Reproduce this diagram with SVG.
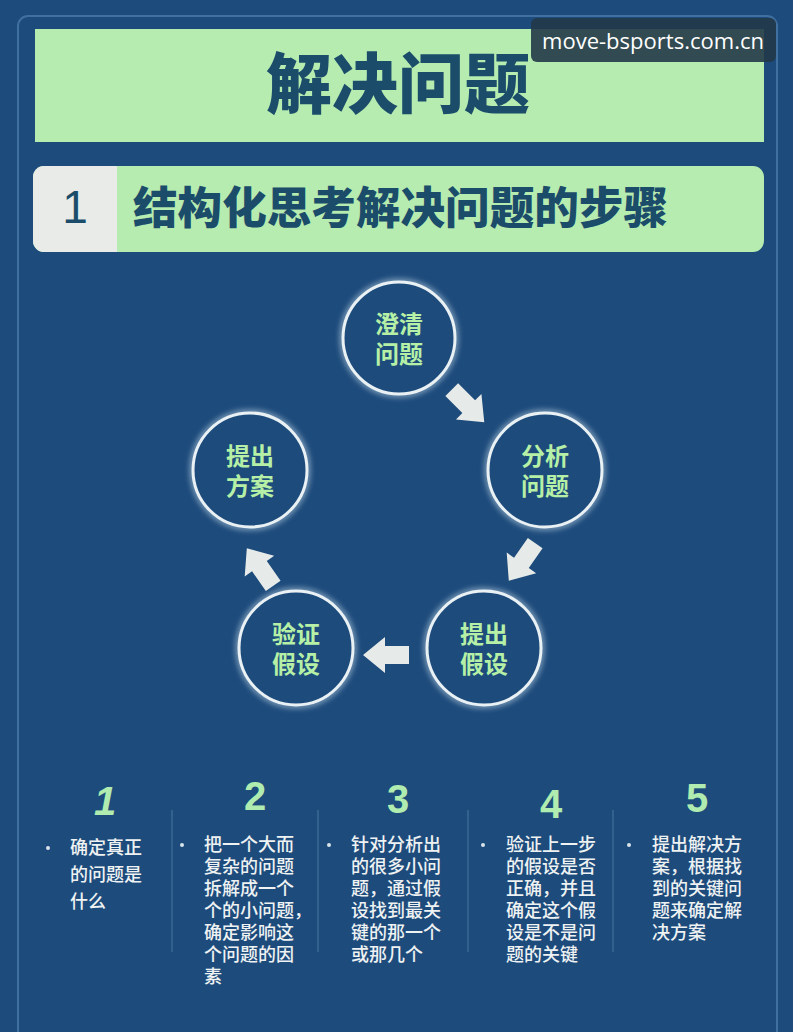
<svg xmlns="http://www.w3.org/2000/svg" width="793" height="1032" viewBox="0 0 793 1032">
<defs>
<style>
.cjk{font-family:"Noto Sans CJK SC","Noto Sans",sans-serif;}
.title{font-weight:900;fill:#1b4d6b;}
.node circle.ring{fill:#1d4b7c;stroke:#e9f1f4;stroke-width:3;}
.node circle.glow{fill:none;stroke:#cfe2ee;stroke-width:8;opacity:0.45;filter:url(#blur);}
.node text{font-size:24px;font-weight:700;fill:#b6f0a6;text-anchor:middle;}
.arrow{fill:#e6eae8;}
.num{font-family:"Liberation Sans",sans-serif;font-weight:700;font-size:40px;fill:#b0ecb0;text-anchor:middle;}
.body{font-size:18px;font-weight:500;fill:#eef2f2;}
.bullet{fill:#d8e4ea;}
.div{stroke:#3b6894;stroke-width:1.5;}
</style>
<filter id="blur" x="-20%" y="-20%" width="140%" height="140%"><feGaussianBlur stdDeviation="2.5"/></filter>
<path id="arr" d="M-23,-9 L1,-9 L1,-18 L23,0 L1,18 L1,9 L-23,9 Z"/>
</defs>
<rect x="0" y="0" width="793" height="1032" fill="#1d4b7c"/>
<rect x="18" y="16" width="759" height="1040" rx="10" fill="none" stroke="#3f70a0" stroke-width="2"/>
<g id="title">
<rect x="35" y="29" width="729" height="113" fill="#b6ecb0"/>
<text class="cjk title" x="398" y="108" font-size="66" text-anchor="middle">解决问题</text>
</g>
<g id="watermark">
<rect x="531" y="18" width="245" height="44" rx="6" fill="#243848" opacity="0.9"/>
<text x="653" y="49" font-family="Open Sans,Liberation Sans,sans-serif" font-size="22" fill="#ffffff" text-anchor="middle" textLength="222" lengthAdjust="spacingAndGlyphs">move-bsports.com.cn</text>
</g>
<g id="subtitle">
<rect x="33" y="166" width="731" height="86" rx="11" fill="#b6ecb0"/>
<path d="M44,166 H117 V252 H44 A11,11 0 0 1 33,241 V177 A11,11 0 0 1 44,166 Z" fill="#e8ebe8"/>
<text x="75" y="223" font-family="Liberation Sans,sans-serif" font-size="46" fill="#1b4d6b" text-anchor="middle">1</text>
<text class="cjk title" x="133" y="224" font-size="44.5" textLength="535" lengthAdjust="spacingAndGlyphs">结构化思考解决问题的步骤</text>
</g>
<g id="n1" class="node cjk">
<circle class="glow" cx="399" cy="338" r="56"/><circle class="ring" cx="399" cy="338" r="56"/>
<text x="399" y="333">澄清</text><text x="399" y="363">问题</text>
</g>
<g id="n2" class="node cjk">
<circle class="glow" cx="545" cy="470" r="57"/><circle class="ring" cx="545" cy="470" r="57"/>
<text x="545" y="465">分析</text><text x="545" y="495">问题</text>
</g>
<g id="n3" class="node cjk">
<circle class="glow" cx="484" cy="648" r="57"/><circle class="ring" cx="484" cy="648" r="57"/>
<text x="484" y="643">提出</text><text x="484" y="673">假设</text>
</g>
<g id="n4" class="node cjk">
<circle class="glow" cx="296" cy="648" r="57"/><circle class="ring" cx="296" cy="648" r="57"/>
<text x="296" y="643">验证</text><text x="296" y="673">假设</text>
</g>
<g id="n5" class="node cjk">
<circle class="glow" cx="250" cy="470" r="57"/><circle class="ring" cx="250" cy="470" r="57"/>
<text x="250" y="465">提出</text><text x="250" y="495">方案</text>
</g>
<g id="connectors">
<use href="#arr" class="arrow" transform="translate(468,406) rotate(45)"/>
<use href="#arr" class="arrow" transform="translate(522,562) rotate(125)"/>
<use href="#arr" class="arrow" transform="translate(386,655) rotate(180)"/>
<use href="#arr" class="arrow" transform="translate(260,567) rotate(-125)"/>
</g>
<g id="steps">
<line class="div" x1="172" y1="810" x2="172" y2="952"/>
<line class="div" x1="318" y1="810" x2="318" y2="952"/>
<line class="div" x1="468" y1="810" x2="468" y2="952"/>
<line class="div" x1="613" y1="810" x2="613" y2="952"/>
<g id="s1">
<text class="num" x="105" y="815" font-style="italic">1</text>
<circle class="bullet" cx="48" cy="848" r="2"/>
<text class="cjk body" x="70"><tspan x="70" y="854">确定真正</tspan><tspan x="70" y="881">的问题是</tspan><tspan x="70" y="908">什么</tspan></text>
</g>
<g id="s2">
<text class="num" x="255" y="810">2</text>
<circle class="bullet" cx="182" cy="845" r="2"/>
<text class="cjk body"><tspan x="204" y="851">把一个大而</tspan><tspan x="204" y="873">复杂的问题</tspan><tspan x="204" y="895">拆解成一个</tspan><tspan x="204" y="917">个的小问题，</tspan><tspan x="204" y="939">确定影响这</tspan><tspan x="204" y="961">个问题的因</tspan><tspan x="204" y="983">素</tspan></text>
</g>
<g id="s3">
<text class="num" x="398" y="813">3</text>
<circle class="bullet" cx="329" cy="845" r="2"/>
<text class="cjk body"><tspan x="351" y="851">针对分析出</tspan><tspan x="351" y="873">的很多小问</tspan><tspan x="351" y="895">题，通过假</tspan><tspan x="351" y="917">设找到最关</tspan><tspan x="351" y="939">键的那一个</tspan><tspan x="351" y="961">或那几个</tspan></text>
</g>
<g id="s4">
<text class="num" x="551" y="818">4</text>
<circle class="bullet" cx="483" cy="845" r="2"/>
<text class="cjk body"><tspan x="506" y="851">验证上一步</tspan><tspan x="506" y="873">的假设是否</tspan><tspan x="506" y="895">正确，并且</tspan><tspan x="506" y="917">确定这个假</tspan><tspan x="506" y="939">设是不是问</tspan><tspan x="506" y="961">题的关键</tspan></text>
</g>
<g id="s5">
<text class="num" x="697" y="812">5</text>
<circle class="bullet" cx="629" cy="845" r="2"/>
<text class="cjk body"><tspan x="652" y="851">提出解决方</tspan><tspan x="652" y="873">案，根据找</tspan><tspan x="652" y="895">到的关键问</tspan><tspan x="652" y="917">题来确定解</tspan><tspan x="652" y="939">决方案</tspan></text>
</g>
</g>
</svg>
